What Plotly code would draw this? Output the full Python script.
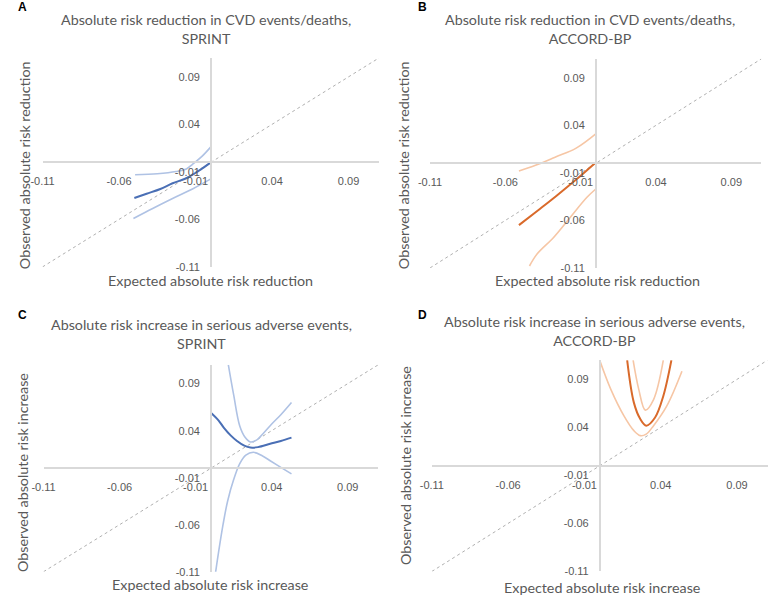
import plotly.graph_objects as go

W, H = 770, 601

# ---------------- data ----------------
TICK_VALS = [-0.11, -0.06, -0.01, 0.04, 0.09]
TICK_TEXT = ["-0.11", "-0.06", "-0.01", "0.04", "0.09"]
AXIS_RANGE = [-0.11, 0.11]
IDENTITY = [-0.11, 0.11]

# Panel A: SPRINT, CVD events/deaths (ARR)
A_est_x = [-0.050, -0.042, -0.033, -0.025, -0.016, -0.008, 0.0]
A_est_y = [-0.0375, -0.033, -0.028, -0.022, -0.0167, -0.009, 0.0]
A_hi_x = [-0.0495, -0.035, -0.0227, -0.016, -0.012, -0.006, 0.0]
A_hi_y = [-0.013, -0.012, -0.0097, -0.007, -0.002, 0.006, 0.0163]
A_lo_x = [-0.0506, -0.038, -0.025, -0.012, 0.0]
A_lo_y = [-0.059, -0.0485, -0.038, -0.028, -0.0174]

# Panel B: ACCORD-BP, CVD events/deaths (ARR)
B_est_x = [-0.051, -0.038, -0.026, -0.013, 0.0]
B_est_y = [-0.065, -0.049, -0.034, -0.017, 0.001]
B_hi_x = [-0.051, -0.040, -0.027, -0.013, 0.0]
B_hi_y = [-0.008, -0.002, 0.0065, 0.016, 0.031]
B_lo_x = [-0.044, -0.039, -0.028, -0.017, -0.006, 0.0]
B_lo_y = [-0.108, -0.0955, -0.078, -0.057, -0.036, -0.027]

# Panel C: SPRINT, serious adverse events (ARI)
C_est_x = [0.0, 0.005, 0.0086, 0.013, 0.0172, 0.022, 0.026, 0.031, 0.039, 0.046, 0.053]
C_est_y = [0.059, 0.051, 0.043, 0.035, 0.029, 0.024, 0.022, 0.0225, 0.026, 0.029, 0.0326]
C_hi_x = [0.0115, 0.015, 0.019, 0.0225, 0.026, 0.030, 0.035, 0.040, 0.046, 0.053]
C_hi_y = [0.11, 0.078, 0.045, 0.033, 0.028, 0.030, 0.038, 0.047, 0.057, 0.070]
C_lo_x = [0.003, 0.005, 0.008, 0.011, 0.015, 0.019, 0.023, 0.028, 0.034, 0.039, 0.046, 0.053]
C_lo_y = [-0.112, -0.09, -0.06, -0.035, -0.012, 0.005, 0.014, 0.017, 0.013, 0.008, 0.001, -0.006]

# Panel D: ACCORD-BP, serious adverse events (ARI)
D_lo_x = [0.0, 0.0073, 0.0159, 0.0224, 0.0266, 0.0305, 0.0353, 0.044, 0.0539]
D_lo_y = [0.11, 0.0796, 0.052, 0.0366, 0.0314, 0.033, 0.0418, 0.0624, 0.0985]
D_est_x = [0.018, 0.0224, 0.0266, 0.0305, 0.0363, 0.0417, 0.047]
D_est_y = [0.11, 0.0658, 0.0487, 0.0418, 0.0503, 0.0727, 0.11]
D_hi_x = [0.0219, 0.0256, 0.0299, 0.0353, 0.0417]
D_hi_y = [0.11, 0.0796, 0.058, 0.069, 0.11]

TITLES = [
    "Absolute risk reduction in CVD events/deaths,<br>SPRINT",
    "Absolute risk reduction in CVD events/deaths,<br>ACCORD-BP",
    "Absolute risk increase in serious adverse events,<br>SPRINT",
    "Absolute risk increase in serious adverse events,<br>ACCORD-BP",
]
LETTERS = ["A", "B", "C", "D"]
X_TITLES = ["Expected absolute risk reduction", "Expected absolute risk reduction",
            "Expected absolute risk increase", "Expected absolute risk increase"]
Y_TITLES = ["Observed absolute risk reduction", "Observed absolute risk reduction",
            "Observed absolute risk increase", "Observed absolute risk increase"]

# ---------------- styling / layout ----------------
BLUE_DARK, BLUE_LIGHT = "#4A6FB5", "#AFC2E4"
ORANGE_DARK, ORANGE_LIGHT = "#D96A2B", "#F6C6A5"
AXIS_COL = "#D9D9D9"
TEXT_COL = "#595959"

# plot boxes in pixels: (left, right, top, bottom) corresponding to range ends
BOXES = [
    (31, 373, 58.4, 269.6),
    (424.7, 761.3, 59.4, 270.6),
    (32, 372, 368.5, 577.5),
    (426.5, 767.5, 363.8, 577.2),
]
TITLE_POS = [(197, 29), (587, 29), (193, 337), (592, 334)]
LETTER_POS = [(4, 7), (410, 7), (4, 318), (410, 318)]
XT_POS = [(202, 283), (595, 283), (201, 590), (599, 593)]
YT_POS = [(13, 167), (398, 167), (10, 477), (400, 470)]

panels = [
    (A_est_x, A_est_y, A_hi_x, A_hi_y, A_lo_x, A_lo_y, BLUE_DARK, BLUE_LIGHT),
    (B_est_x, B_est_y, B_hi_x, B_hi_y, B_lo_x, B_lo_y, ORANGE_DARK, ORANGE_LIGHT),
    (C_est_x, C_est_y, C_hi_x, C_hi_y, C_lo_x, C_lo_y, BLUE_DARK, BLUE_LIGHT),
    (D_est_x, D_est_y, D_hi_x, D_hi_y, D_lo_x, D_lo_y, ORANGE_DARK, ORANGE_LIGHT),
]

fig = go.Figure()
layout = dict(
    width=W, height=H, margin=dict(l=0, r=0, t=0, b=0),
    paper_bgcolor="white", plot_bgcolor="rgba(0,0,0,0)",
    showlegend=False, annotations=[],
)

TICKFONT = dict(family="Liberation Sans, Arial", size=11, color=TEXT_COL)
TFONT = "Lato, Open Sans, sans-serif"

for i, (ex, ey, hx, hy, lx, ly, dark, light) in enumerate(panels):
    n = "" if i == 0 else str(i + 1)
    xa, ya = "x" + n, "y" + n
    l, r, t, b = BOXES[i]
    xdom = [l / W, r / W]
    ydom = [1 - b / H, 1 - t / H]
    # identity line
    fig.add_trace(go.Scatter(x=IDENTITY, y=IDENTITY, mode="lines", xaxis=xa, yaxis=ya,
                             line=dict(color="#B0B0B0", width=1, dash="dot"), hoverinfo="skip"))
    for xs, ys, col, wdt in [(lx, ly, light, 1.6), (hx, hy, light, 1.6), (ex, ey, dark, 2)]:
        fig.add_trace(go.Scatter(x=xs, y=ys, mode="lines", xaxis=xa, yaxis=ya,
                                 line=dict(color=col, width=wdt, shape="spline", smoothing=1)))
    xcenter = (xdom[0] + xdom[1]) / 2
    ycenter = (ydom[0] + ydom[1]) / 2
    layout["xaxis" + n] = dict(
        domain=xdom, range=AXIS_RANGE, anchor="free", position=ycenter,
        showgrid=False, zeroline=False, showline=True, linecolor=AXIS_COL, linewidth=1.5,
        tickvals=TICK_VALS, ticktext=TICK_TEXT, ticks="", tickfont=TICKFONT,
        ticklabelstandoff=9, fixedrange=True,
    )
    layout["yaxis" + n] = dict(
        domain=ydom, range=AXIS_RANGE, anchor="free", position=xcenter,
        showgrid=False, zeroline=False, showline=True, linecolor=AXIS_COL, linewidth=1.5,
        tickvals=TICK_VALS, ticktext=TICK_TEXT, ticks="", tickfont=TICKFONT,
        ticklabelstandoff=8, fixedrange=True,
    )
    tx, ty = TITLE_POS[i]
    layout["annotations"].append(dict(
        text=TITLES[i], x=tx / W, y=1 - ty / H, xref="paper", yref="paper",
        showarrow=False, xanchor="center", yanchor="middle",
        font=dict(family=TFONT, size=14.3, color=TEXT_COL)))
    lx0, ly0 = LETTER_POS[i]
    layout["annotations"].append(dict(
        text="<b>%s</b>" % LETTERS[i], x=lx0 / W, y=1 - ly0 / H, xref="paper", yref="paper",
        showarrow=False, xanchor="left", yanchor="middle",
        font=dict(family="Liberation Sans, Arial", size=12, color="black")))
    xtx, xty = XT_POS[i]
    layout["annotations"].append(dict(
        text=X_TITLES[i], x=xtx / W, y=1 - xty / H, xref="paper", yref="paper",
        showarrow=False, xanchor="center", yanchor="middle",
        font=dict(family=TFONT, size=14.3, color=TEXT_COL)))
    ytx, yty = YT_POS[i]
    layout["annotations"].append(dict(
        text=Y_TITLES[i], x=ytx / W, y=1 - yty / H, xref="paper", yref="paper",
        showarrow=False, xanchor="center", yanchor="middle", textangle=-90,
        font=dict(family=TFONT, size=14.3, color=TEXT_COL)))

fig.update_layout(**layout)
fig.write_html("out.html", config={"displayModeBar": False},
               post_script="document.body.style.margin='0';document.body.style.overflow='hidden';")
